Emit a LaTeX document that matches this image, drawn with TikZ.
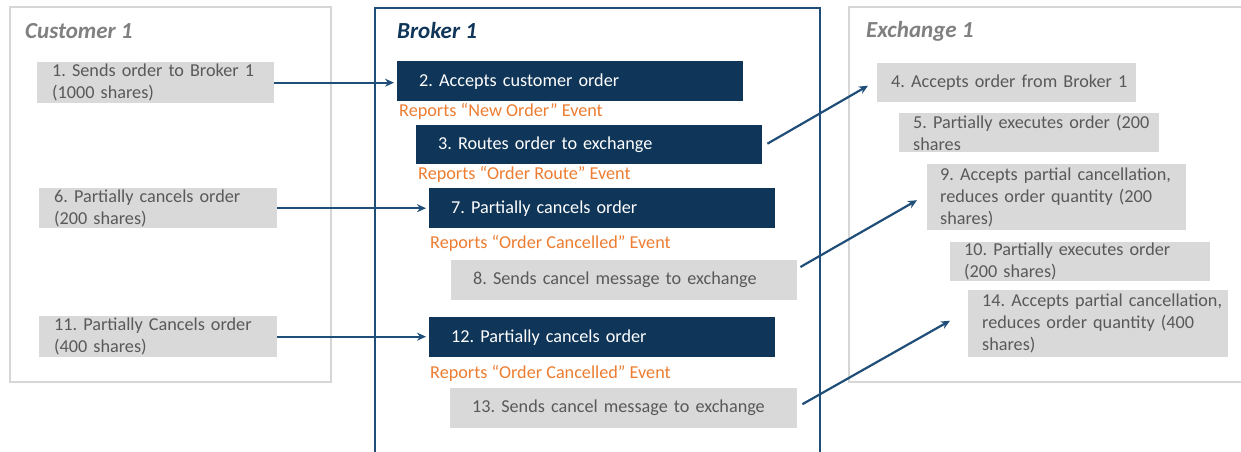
\documentclass[tikz,border=0pt]{standalone}
\usepackage{fontspec}
\setmainfont{Carlito}
\usetikzlibrary{arrows.meta}
\frenchspacing

\definecolor{navy}{HTML}{0F3558}
\definecolor{panelblue}{HTML}{1F4E79}
\definecolor{boxgrey}{HTML}{D9D9D9}
\definecolor{panelgrey}{HTML}{D6D6D6}
\definecolor{txtgrey}{HTML}{595959}
\definecolor{titlegrey}{HTML}{808080}
\definecolor{evorange}{HTML}{ED7D31}

\begin{document}
\begin{tikzpicture}[x=1pt,y=-1pt,>={Stealth[length=9pt,width=8pt]},
    txt/.style={font=\fontsize{18.2}{22}\selectfont},
    panel/.style={draw=panelgrey,line width=1.5pt},
    title/.style={anchor=west,inner sep=0pt,font=\fontsize{23}{24}\selectfont\bfseries\itshape},
    navybox/.style={txt,fill=navy,text=white,anchor=north west,align=left,
        inner xsep=22pt,inner ysep=0pt,minimum height=40pt,text width=302pt},
    greybox/.style={txt,fill=boxgrey,text=txtgrey,anchor=north west,align=left,
        inner xsep=14pt,inner ysep=0pt,minimum height=40pt},
    xbox/.style={greybox,inner xsep=2pt,text width=256pt,
        execute at begin node={\leftskip=12pt}},
    event/.style={txt,anchor=west,inner sep=0pt,text=evorange},
    flow/.style={->,draw=panelblue,line width=2.2pt}]

        % --- 1. Canvas and Panels ---
        \useasboundingbox (0,0) rectangle (1241,452);
        \clip (0,0) rectangle (1241,452);
        \fill[white] (0,0) rectangle (1241,452);

        \draw[panel] (10,7) rectangle (331,382);
        \draw[panelblue,line width=2pt] (375,460) -- (375,8) -- (820,8) -- (820,460);
        \draw[panel] (849,7) rectangle (1260,382);

        \node[title,text=titlegrey] (tcust) at (25,31) {Customer 1};
        \node[title,text=navy] (tbrok) at (397,31) {Broker 1};
        \node[title,text=titlegrey] (texch) at (866,31) {Exchange 1};

        % --- 2. Customer Steps ---
        \node[greybox,inner xsep=15pt,text width=207pt,minimum height=41pt] (c1) at (37,62)
            {1. Sends order to Broker 1\\(1000 shares)};
        \node[greybox,inner xsep=15pt,text width=208pt] (c6) at (39,188)
            {6. Partially cancels order\\(200 shares)};
        \node[greybox,inner xsep=15pt,text width=208pt,minimum height=41pt] (c11) at (39,316)
            {11. Partially Cancels order\\(400 shares)};

        % --- 3. Broker Steps ---
        \node[navybox] (b2) at (397,61) {2. Accepts customer order};
        \node[event] (r2) at (399,111) {Reports “New Order” Event};
        \node[navybox,minimum height=39pt] (b3) at (416,125) {3. Routes order to exchange};
        \node[event] (r3) at (418,174) {Reports “Order Route” Event};
        \node[navybox] (b7) at (429,188) {7. Partially cancels order};
        \node[event] (r7) at (430,243) {Reports “Order Cancelled” Event};
        \node[greybox,inner xsep=22pt,text width=302pt] (b8) at (451,260)
            {8. Sends cancel message to exchange};
        \node[navybox] (b12) at (429,317) {12. Partially cancels order};
        \node[event] (r12) at (430,373) {Reports “Order Cancelled” Event};
        \node[greybox,inner xsep=22pt,text width=303pt] (b13) at (450,388)
            {13. Sends cancel message to exchange};

        % --- 4. Exchange Steps ---
        \node[xbox,text width=255pt,minimum height=39pt] (e4) at (877,63)
            {4. Accepts order from Broker 1};
        \node[xbox,minimum height=39pt] (e5) at (899,113)
            {5. Partially executes order (200\\shares};
        \node[xbox,text width=255pt,minimum height=66pt,
            execute at begin node={\leftskip=11pt}] (e9) at (927,164)
            {9. Accepts partial cancellation,\\reduces order quantity (200\\shares)};
        \node[xbox,minimum height=39pt] (e10) at (950,242)
            {10. Partially executes order\\(200 shares)};
        \node[xbox,minimum height=67pt] (e14) at (968,290)
            {14. Accepts partial cancellation,\\reduces order quantity (400\\shares)};

        % --- 5. Messages ---
        \draw[flow] (c1.east) -- ([xshift=-3pt]c1.east -| b2.west);
        \draw[flow] (c6.east) -- ([xshift=-3pt]c6.east -| b7.west);
        \draw[flow] (c11.east) -- ([xshift=-3pt]c11.east -| b12.west);

        \draw[flow] ([shift={(5,-1)}]b3.east) -- ([shift={(-9,3)}]e4.west);
        \draw[flow] ([shift={(3,7)}]b8.north east) -- ([shift={(-10,3)}]e9.west);
        \draw[flow] ([shift={(5,-4)}]b13.east) -- ([shift={(-18,-3)}]e14.west);

    \end{tikzpicture}
\end{document}
